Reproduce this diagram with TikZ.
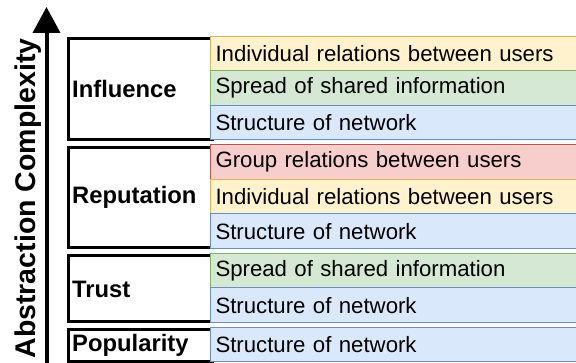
\documentclass[tikz,border=0pt]{standalone}
\usepackage{fontspec}
\setmainfont{Liberation Sans}
\usetikzlibrary{arrows.meta}
\definecolor{yfill}{HTML}{FFF2CC}
\definecolor{yline}{HTML}{D6B656}
\definecolor{gfill}{HTML}{D5E8D4}
\definecolor{gline}{HTML}{82B366}
\definecolor{bfill}{HTML}{DAE8FC}
\definecolor{bline}{HTML}{6C8EBF}
\definecolor{rfill}{HTML}{F8CECC}
\definecolor{rline}{HTML}{B85450}
\tikzset{
  cat/.style={draw, line width=3pt, minimum width=144.5pt, anchor=north west, inner sep=0pt},
  lab/.style={anchor=west, inner sep=0pt, font=\fontsize{23.8}{28}\selectfont\bfseries},
  row/.style={draw=#1line, fill=#1fill, line width=1pt, anchor=north west,
    minimum width=368pt, minimum height=34.5pt, text width=358pt, inner xsep=5pt,
    inner ysep=0pt, align=left, font=\fontsize{22.2}{26}\selectfont},
}
\begin{document}
\begin{tikzpicture}[x=1pt,y=-1pt]
\useasboundingbox (0,0) rectangle (576,363);
\coordinate (ab) at (46.5,370);
\coordinate (at) at (46.5,7);
\draw[line width=4pt,-{Triangle[length=26pt,width=27pt]}] (ab) -- (at);
\node[rotate=90,anchor=base,inner sep=0pt,font=\fontsize{28.5}{32}\selectfont\bfseries] (ax) at (35,198.5) {Abstraction Complexity};
% influence
\node[cat,minimum height=100.5pt] (i) at (66.5,37.5) {};
\node[lab] (il) at ([xshift=5.5pt]i.west) {Influence};
\node[row=y] (i1) at (210,36) {Individual relations between users};
\node[row=g] (i2) at (210,70.5) {Spread of shared information};
\node[row=b] (i3) at (210,105) {Structure of network};
% reputation
\node[cat,minimum height=100.5pt] (r) at (66.5,146) {};
\node[lab] (rl) at ([xshift=5.5pt]r.west) {Reputation};
\node[row=r] (r1) at (210,144.5) {Group relations between users};
\node[row=y] (r2) at (210,179) {Individual relations between users};
\node[row=b] (r3) at (210,213.5) {Structure of network};
% trust
\node[cat,minimum height=66pt] (t) at (66.5,254.5) {};
\node[lab] (tl) at ([xshift=5.5pt]t.west) {Trust};
\node[row=g] (t1) at (210,253) {Spread of shared information};
\node[row=b] (t2) at (210,287.5) {Structure of network};
% popularity
\node[cat,minimum height=31.5pt] (p) at (66.5,328.5) {};
\node[lab] (pl) at ([xshift=5.5pt]p.west) {Popularity};
\node[row=b] (p1) at (210,327) {Structure of network};
\end{tikzpicture}
\end{document}
